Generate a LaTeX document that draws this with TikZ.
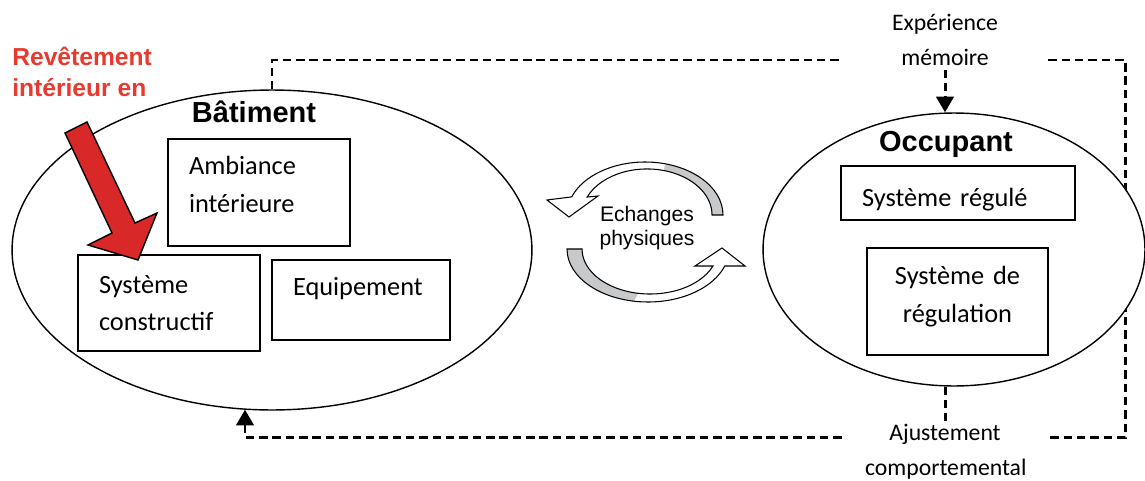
\documentclass[tikz,border=0pt]{standalone}
\usepackage{fontspec}
\setmainfont{Carlito}
\newfontfamily\arial{Liberation Sans}
\usetikzlibrary{shapes.geometric,arrows.meta,calc}
\definecolor{rougefleche}{RGB}{217,40,40}
\definecolor{rougetexte}{RGB}{232,58,46}
\definecolor{grisfleche}{RGB}{200,201,203}

\begin{document}
\begin{tikzpicture}[x=0.02cm,y=-0.02cm,
    bulle/.style={ellipse,draw,fill=white,line width=0.8pt,inner sep=0pt},
    bloc/.style={draw,line width=0.85pt,align=left,inner xsep=0.42cm,inner ysep=0pt,
      font=\fontsize{15}{21.3}\selectfont},
    titre/.style={font=\arial\bfseries\fontsize{16.5}{20}\selectfont,inner sep=0pt},
    note/.style={align=center,text width=3.2cm,inner xsep=0.46cm,inner ysep=2pt,
      font=\fontsize{13.5}{19.9}\selectfont},
    tiret/.style={line width=1.7pt,dash pattern=on 4.8pt off 2.8pt},
    pointe/.style={-{Triangle[width=10pt,length=9pt]}},
    echange/.style={draw=black,line width=0.6pt}]
  \useasboundingbox (0,0) rectangle (1145,480);

  % etiquettes des boucles
  \node[note] (experience) at (945,40) {Expérience\\mémoire};
  \node[note] (ajustement) at (945,452) {Ajustement\\comportemental};
  \draw[tiret] ($(experience.east)+(0,20)$) -- ++(77,0) |- ($(ajustement.east)+(0,-15)$);

  % les deux systemes
  \node[bulle,minimum width=10.4cm,minimum height=6.4cm] (batiment) at (272,250) {};
  \node[bulle,minimum width=7.64cm,minimum height=5.46cm] (occupant) at (954,249.5) {};
  \node[titre] (tbat) at (254,112) {Bâtiment};
  \node[titre] (tocc) at (946,144) {Occupant};

  \node[bloc,text width=2.8cm,minimum height=2.14cm,text height=10pt,text depth=30pt] (ambiance) at (259,192.5) {Ambiance\\intérieure};
  \node[bloc,text width=2.8cm,minimum height=1.92cm] (constructif) at (169,303) {Système\\constructif};
  \node[bloc,text width=2.72cm,minimum height=1.6cm,text height=5pt,text depth=10pt] (equipement) at (361,300) {Equipement};
  \node[bloc,text width=3.84cm,minimum height=1.08cm,text height=15.9pt,text depth=0pt] (regule) at (958,193) {Système régulé};
  \node[bloc,align=center,text width=2.78cm,minimum height=2.14cm,text height=10.5pt,text depth=29.3pt] (regulation) at (957.5,301.5) {Système de\\régulation};

  % echanges physiques
  \node[font=\arial\fontsize{12}{13.7}\selectfont,align=center,inner sep=0pt] (echanges) at (647,228) {Echanges\\physiques};
  \fill[grisfleche] (723,215) arc[start angle=0,end angle=-75,x radius=78,y radius=53]
    -- (663.8,170.6) arc[start angle=-75,end angle=0,x radius=65,y radius=46] -- cycle;
  \draw[echange] (723,215) arc[start angle=0,end angle=-160,x radius=78,y radius=53]
    -- (547,200) -- (569,217) -- (598,196) -- (587.2,197)
    arc[start angle=-157,end angle=0,x radius=65,y radius=46] -- cycle;
  \fill[grisfleche] (567,249) arc[start angle=180,end angle=100,x radius=81,y radius=53]
    -- (638.2,293.3) arc[start angle=100,end angle=180,x radius=68,y radius=45] -- cycle;
  \draw[echange] (567,249) arc[start angle=180,end angle=18.7,x radius=81,y radius=53]
    -- (745,266) -- (722,248) -- (695,266) -- (713,266)
    arc[start angle=22.2,end angle=180,x radius=68,y radius=45] -- cycle;

  % liaisons
  \draw[tiret] (batiment.north) |- ($(experience.west)+(0,20)$);
  \draw[tiret,pointe] (experience.south) -- (experience.south |- occupant.north);
  \draw[tiret] (occupant.south -| ajustement.north) -- (ajustement.north);
  \draw[tiret,pointe] ($(ajustement.west)+(0,-15)$) -| ($(batiment.south)+(-27,-1)$);

  % revetement
  \filldraw[fill=rougefleche,draw=black,line width=0.8pt] (65,133) -- (87,122) -- (135,223)
    -- (157,213) -- (138,260) -- (88,245) -- (112,233) -- cycle;
  \node[anchor=west,align=left,text=rougetexte,inner sep=0pt,
    font=\arial\bfseries\fontsize{14}{17.6}\selectfont] (revetement) at (12,72) {Revêtement\\intérieur en};
\end{tikzpicture}
\end{document}
